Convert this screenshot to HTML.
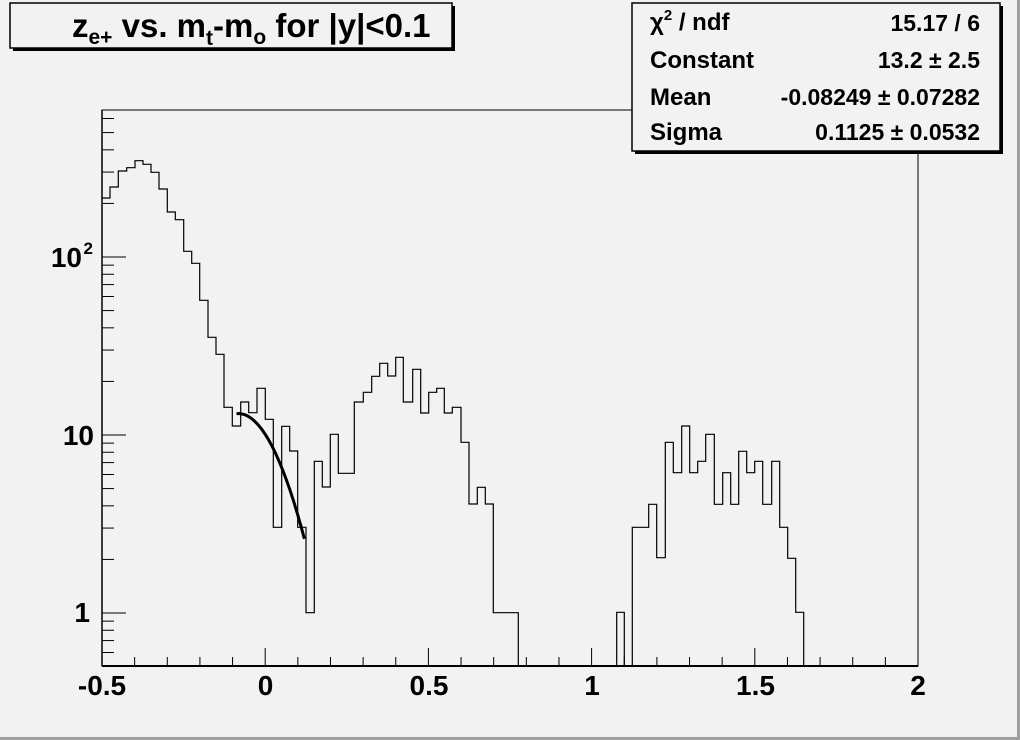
<!DOCTYPE html>
<html><head><meta charset="utf-8"><style>
html,body{margin:0;padding:0;background:#f2f2f2;}
svg{display:block;font-family:"Liberation Sans",Arial,sans-serif;font-weight:bold;}
</style></head><body>
<svg id="s" width="1020" height="740" xmlns="http://www.w3.org/2000/svg">
<rect x="0" y="0" width="1020" height="740" fill="#f2f2f2"/>
<rect x="0" y="737" width="1020" height="3" fill="#a0a0a0"/>
<rect x="1017" y="0" width="3" height="740" fill="#a0a0a0"/>
<rect x="102" y="110" width="816" height="556" fill="none" stroke="#000" stroke-width="1"/>
<g id="ticks" stroke="#000" stroke-width="1"></g>
<path id="hist" fill="none" stroke="#000" stroke-width="1.2"/>
<path id="fit" fill="none" stroke="#000" stroke-width="3"/>
<line x1="102" y1="666" x2="918" y2="666" stroke="#000" stroke-width="2"/>
<line x1="102" y1="110" x2="102" y2="666" stroke="#000" stroke-width="1.5"/>
<g style="font-size:28px" text-anchor="middle">
<text x="102" y="695">-0.5</text><text x="265.5" y="695">0</text><text x="429" y="695">0.5</text>
<text x="592" y="695">1</text><text x="755.5" y="695">1.5</text><text x="918" y="695">2</text>
</g>
<g style="font-size:28px" text-anchor="end">
<text x="90" y="622">1</text>
<text x="94" y="445">10</text>
<text x="82" y="267">10</text><text x="93" y="254" style="font-size:17px">2</text>
</g>
<!-- title -->
<rect x="13" y="6" width="442" height="45" fill="#000"/>
<rect x="10" y="3" width="442" height="45" fill="#f2f2f2" stroke="#000" stroke-width="1.5"/>
<text x="72" y="37" style="font-size:33px">z<tspan style="font-size:21px" dy="7">e+</tspan><tspan dy="-7"> vs. m</tspan><tspan style="font-size:21px" dy="8">t</tspan><tspan dy="-8">-m</tspan><tspan style="font-size:21px" dy="7">o</tspan><tspan dy="-7"> for |y|&lt;0.1</tspan></text>
<!-- stats -->
<rect x="635" y="6" width="368" height="148" fill="#000"/>
<rect x="632" y="3" width="368" height="148" fill="#f2f2f2" stroke="#000" stroke-width="1.5"/>
<g style="font-size:24px">
<text x="650" y="30">χ<tspan style="font-size:15px" dy="-10">2</tspan><tspan dy="10"> / ndf</tspan></text>
<text x="650" y="68">Constant</text>
<text x="650" y="105">Mean</text>
<text x="650" y="140">Sigma</text>
</g>
<g style="font-size:23px" text-anchor="end">
<text x="980" y="31">15.17 / 6</text>
<text x="980" y="68">13.2 ± 2.5</text>
<text x="980" y="105">-0.08249 ± 0.07282</text>
<text x="980" y="140">0.1125 ± 0.0532</text>
</g>
</svg>
<script>
var g=document.getElementById('ticks'),t='';
function L(a,b,c,d){t+='<line x1="'+a+'" y1="'+b+'" x2="'+c+'" y2="'+d+'"/>';}
for(var i=0;i<=25;i++){var x=102+i*32.64;L(x,666,x,i%5==0?648:657);}
function py(v){return 613-178*Math.log10(v);}
var vals=[0.6,0.7,0.8,0.9,1,2,3,4,5,6,7,8,9,10,20,30,40,50,60,70,80,90,100,200,300,400,500,600];
vals.forEach(function(v){var y=py(v);if(y<110||y>666)return;var maj=(v==1||v==10||v==100);L(102,y,maj?126:114,y);});
g.innerHTML=t;
var pts=[[102,198],[110,198],[110,187],[118.3,187],[118.3,171],[126.7,171],[126.7,167.7],[135,167.7],[135,160.7],[143,160.7],[143,164.3],[151,164.3],[151,172.3],[159,172.3],[159,189],[167.3,189],[167.3,212],[175.3,212],[175.3,219.7],[183.7,219.7],[183.7,251.3],[191.7,251.3],[191.7,263.3],[199.7,263.3],[199.7,300.3],[208,300.3],[208,337.3],[216,337.3],[216,354.3],[224,354.3],[224,407.3],[232.3,407.3],[232.3,426],[240.7,426],[240.7,402],[248.7,402],[248.7,412.7],[257,412.7],[257,388.3],[265.3,388.3],[265.3,419.3],[273.3,419.3],[273.3,527.3],[281.7,527.3],[281.7,426.3],[289.7,426.3],[289.7,451],[297.7,451],[297.7,527.3],[306,527.3],[306,612.7],[314.3,612.7],[314.3,461.3],[322.3,461.3],[322.3,487],[330.3,487],[330.3,434.3],[338.3,434.3],[338.3,473.3],[354.3,473.3],[354.3,402],[363.3,402],[363.3,392.3],[371.7,392.3],[371.7,376.3],[379.7,376.3],[379.7,363.3],[387.7,363.3],[387.7,376],[395.7,376],[395.7,357.3],[403.3,357.3],[403.3,402],[412.7,402],[412.7,369.3],[420.7,369.3],[420.7,413],[428.7,413],[428.7,392.3],[436.7,392.3],[436.7,388.3],[444.3,388.3],[444.3,413],[452.3,413],[452.3,407.3],[461,407.3],[461,442.3],[469,442.3],[469,504],[477.3,504],[477.3,487.3],[485.3,487.3],[485.3,504],[493.3,504],[493.3,612.7],[518.3,612.7],[518.3,666]];
var d='M'+pts.map(function(p){return p[0]+','+p[1];}).join(' L');
var p2=[[616.7,666],[616.7,612.3],[624.3,612.3],[624.3,666],[632.3,666],[632.3,527.3],[648.7,527.3],[648.7,504.3],[656.7,504.3],[656.7,557.7],[665.3,557.7],[665.3,442.3],[673.3,442.3],[673.3,472.7],[681.7,472.7],[681.7,426],[689.7,426],[689.7,472.7],[697.7,472.7],[697.7,461.3],[705.7,461.3],[705.7,434.3],[714.3,434.3],[714.3,504.3],[722.7,504.3],[722.7,472.7],[730.7,472.7],[730.7,504.3],[738.7,504.3],[738.7,451.3],[746.7,451.3],[746.7,472.7],[754.7,472.7],[754.7,461.3],[762.7,461.3],[762.7,504.3],[771.7,504.3],[771.7,461.3],[779.7,461.3],[779.7,527.3],[787.7,527.3],[787.7,558.3],[795.7,558.3],[795.7,612.3],[803.7,612.3],[803.7,666]];
d+=' M'+p2.map(function(p){return p[0]+','+p[1];}).join(' L');
document.getElementById('hist').setAttribute('d',d);
var f='';for(var i=0;i<=60;i++){var x=-0.088+i*(0.208/60);var v=13.2*Math.exp(-0.5*Math.pow((x+0.08249)/0.1125,2));f+=(i?' L':'M')+(102+326.4*(x+0.5)).toFixed(1)+','+py(v).toFixed(1);}
document.getElementById('fit').setAttribute('d',f);
</script>
</body></html>
